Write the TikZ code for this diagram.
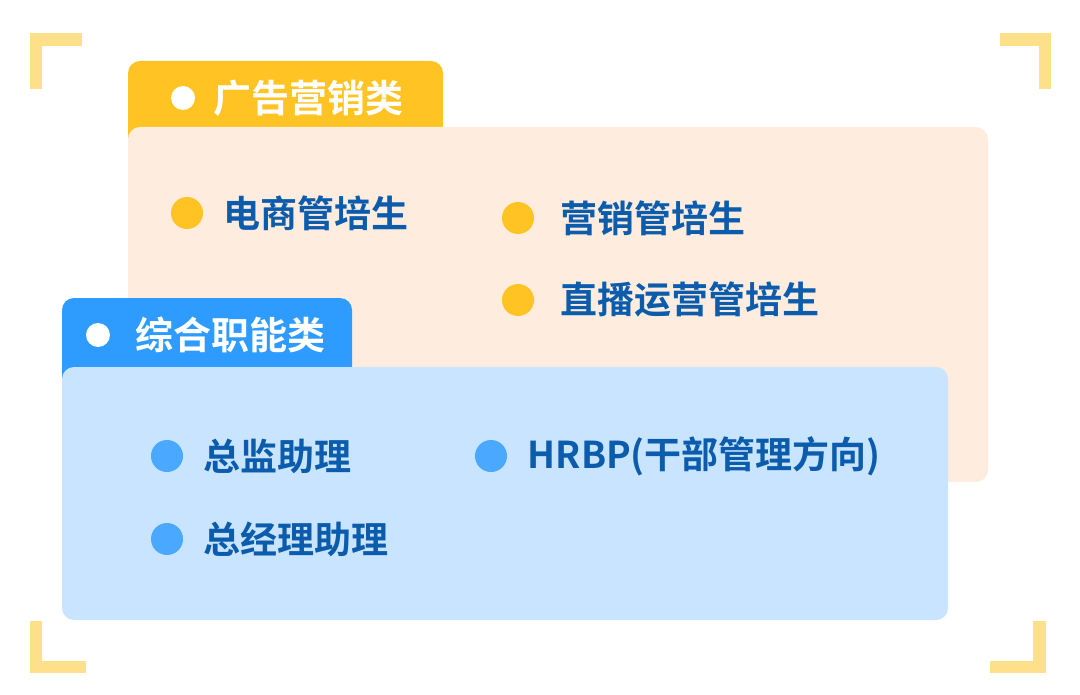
\documentclass[tikz,border=0pt]{standalone}
\usepackage{fontspec}
\newfontfamily\cjk[BoldFont={Noto Sans CJK SC Bold}]{Noto Sans CJK SC}
\usetikzlibrary{positioning}
\definecolor{tabgold}{HTML}{FFC323}
\definecolor{peach}{HTML}{FEEDDF}
\definecolor{framegold}{HTML}{FFE08A}
\definecolor{tabblue}{HTML}{2D9BFF}
\definecolor{paleblue}{HTML}{C8E4FE}
\definecolor{dotblue}{HTML}{4AA8FF}
\definecolor{inkblue}{HTML}{0B5CAD}

\begin{document}
\begin{tikzpicture}[x=0.5pt,y=-0.5pt,node distance=10pt,
    frame/.style={draw=framegold,line width=6.25pt,line join=miter},
    panel/.style={rounded corners=6pt},
    dot/.style={circle,inner sep=0pt,minimum size=16pt},
    tabdot/.style={circle,fill=white,inner sep=0pt,minimum size=12pt},
    item/.style={inner sep=0pt,anchor=west,text=inkblue,font=\cjk\bfseries\fontsize{18.5}{20}\selectfont},
    tabtext/.style={inner sep=0pt,anchor=west,text=white,font=\cjk\bfseries\fontsize{19}{21}\selectfont}]

  \useasboundingbox (0,0) rectangle (1080,695);

  % corner marks
  \draw[frame] (36,89) -- (36,39.5) -- (82,39.5);
  \draw[frame] (1000,39.5) -- (1045,39.5) -- (1045,89);
  \draw[frame] (36,621) -- (36,667) -- (86,667);
  \draw[frame] (990,667) -- (1039.5,667) -- (1039.5,621);

  % advertising / marketing group
  \fill[panel,tabgold] (128,61) rectangle (443,160);
  \fill[panel,peach] (128,127) rectangle (988,482);
  \node[tabdot] (adot) at (183,98) {};
  \node[tabtext] (atitle) [right=9pt of adot] {广告营销类};

  \node[dot,fill=tabgold] (a1) at (187,213) {};
  \node[item] (a1t) [right=of a1] {电商管培生};
  \node[dot,fill=tabgold] (a2) at (518,218) {};
  \node[item] (a2t) [right=13pt of a2] {营销管培生};
  \node[dot,fill=tabgold] (a3) at (518,300) {};
  \node[item] (a3t) [right=13pt of a3] {直播运营管培生};

  % general functions group
  \fill[panel,tabblue] (62,298) rectangle (352,400);
  \fill[panel,paleblue] (62,367) rectangle (948,620);
  \node[tabdot] (bdot) at (98,335) {};
  \node[tabtext] (btitle) [right=12.5pt of bdot] {综合职能类};

  \node[dot,fill=dotblue] (b1) at (167,456) {};
  \node[item] (b1t) [right=of b1] {总监助理};
  \node[dot,fill=dotblue] (b2) at (491,456) {};
  \node[item] (b2t) [right=of b2] {HRBP(干部管理方向)};
  \node[dot,fill=dotblue] (b3) at (167,539) {};
  \node[item] (b3t) [right=of b3] {总经理助理};

\end{tikzpicture}
\end{document}
